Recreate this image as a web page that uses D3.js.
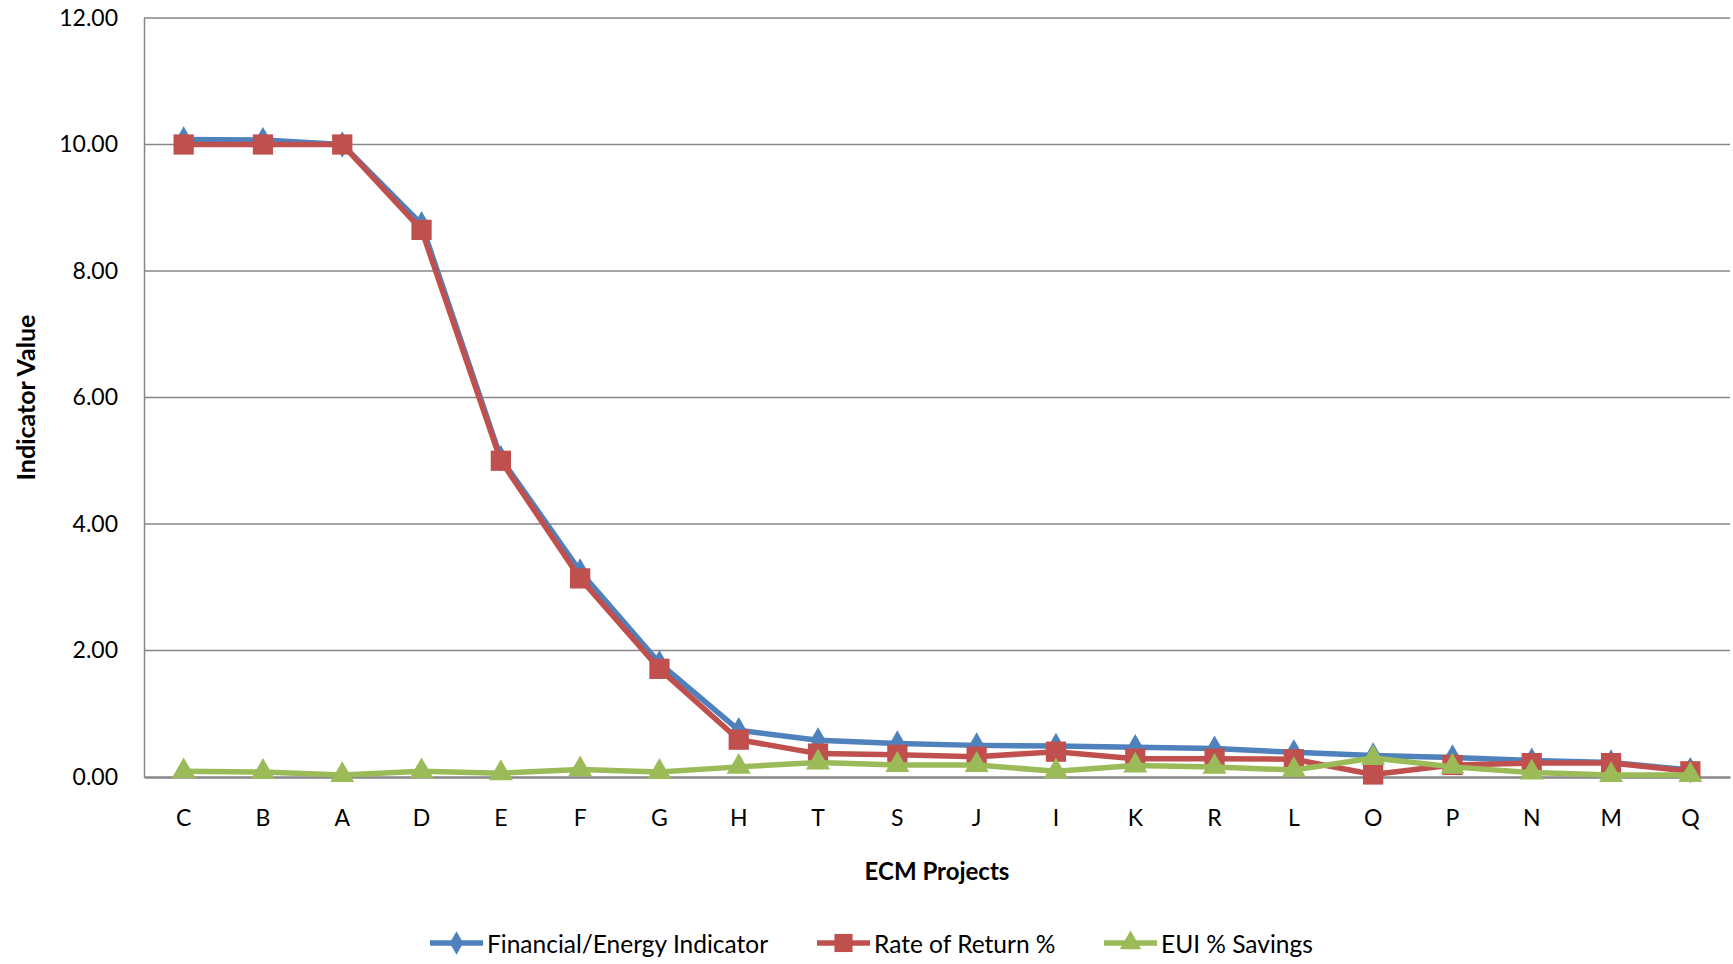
<!DOCTYPE html>
<html>
<head>
<meta charset="utf-8">
<script src="https://cdn.jsdelivr.net/npm/d3@7"></script>
<style>
  body { margin: 0; background: #fff; }
  text { font-family: Lato, "Open Sans", sans-serif; fill: #000; }
</style>
</head>
<body>
<svg width="1733" height="964"></svg>
<script>
var projects = ["C","B","A","D","E","F","G","H","T","S","J","I","K","R","L","O","P","N","M","Q"];
var financialEnergy = [10.08,10.07,10.00,8.74,5.04,3.25,1.80,0.74,0.58,0.53,0.50,0.49,0.47,0.45,0.39,0.34,0.31,0.26,0.23,0.11];
var rateOfReturn   = [10.00,10.00,10.00,8.65,5.00,3.14,1.71,0.59,0.37,0.35,0.32,0.40,0.29,0.29,0.28,0.04,0.19,0.22,0.22,0.09];
var euiSavings     = [0.09,0.08,0.03,0.09,0.06,0.12,0.08,0.16,0.23,0.19,0.19,0.09,0.18,0.16,0.11,0.30,0.16,0.07,0.03,0.03];
var yTicks = [0, 2, 4, 6, 8, 10, 12];

var svg = d3.select("svg"),
    margin = {top: 18, right: 3, bottom: 187, left: 144},
    width = +svg.attr("width") - margin.left - margin.right,
    height = +svg.attr("height") - margin.top - margin.bottom;

var x = d3.scaleBand().domain(projects).range([0, width]);
var y = d3.scaleLinear().domain([0, 12]).range([height, 0]);

var g = svg.append("g").attr("transform", "translate(" + margin.left + "," + margin.top + ")");

// gridlines
g.append("g").selectAll("line")
  .data(yTicks.slice(1))
  .enter().append("line")
    .attr("x1", 0).attr("x2", width)
    .attr("y1", function(d) { return y(d); })
    .attr("y2", function(d) { return y(d); })
    .attr("stroke", "#868686").attr("stroke-width", 1.4);

// axes
var yAxis = g.append("g")
    .call(d3.axisLeft(y).tickValues(yTicks).tickFormat(d3.format(".2f")).tickSize(0).tickPadding(26));
yAxis.select(".domain").attr("stroke", "#868686").attr("stroke-width", 1.5);
yAxis.selectAll("text").style("font-size", "23px");

var xAxis = g.append("g")
    .attr("transform", "translate(0," + height + ")")
    .call(d3.axisBottom(x).tickSize(0).tickPadding(33));
xAxis.select(".domain").attr("stroke", "#868686").attr("stroke-width", 2.5);
xAxis.selectAll("text").style("font-size", "23px");

// axis titles
svg.append("text")
    .attr("transform", "translate(25," + (margin.top + height / 2) + ") rotate(-90)")
    .attr("text-anchor", "middle")
    .attr("dominant-baseline", "central")
    .style("font-size", "25px").style("font-weight", "bold")
    .text("Indicator Value");

svg.append("text")
    .attr("x", margin.left + width / 2)
    .attr("y", 870)
    .attr("text-anchor", "middle")
    .attr("dominant-baseline", "central")
    .style("font-size", "24px").style("font-weight", "bold")
    .text("ECM Projects");

var series = [
  {name: "Financial/Energy Indicator", values: financialEnergy, color: "#4F81BD", symbol: d3.symbolDiamond, size: 200},
  {name: "Rate of Return %", values: rateOfReturn, color: "#C0504D", symbol: d3.symbolSquare, size: 410},
  {name: "EUI % Savings", values: euiSavings, color: "#9BBB59", symbol: d3.symbolTriangle, size: 250}
];

var line = d3.line()
    .x(function(d, i) { return x(projects[i]) + x.bandwidth() / 2; })
    .y(function(d) { return y(d); });

series.forEach(function(s) {
  var sg = g.append("g");
  sg.append("path")
      .datum(s.values)
      .attr("d", line)
      .attr("fill", "none")
      .attr("stroke", s.color)
      .attr("stroke-width", 5.5)
      .attr("stroke-linejoin", "round");
  sg.selectAll("path.mark")
    .data(s.values)
    .enter().append("path")
      .attr("class", "mark")
      .attr("d", d3.symbol().type(s.symbol).size(s.size))
      .attr("transform", function(d, i) {
        return "translate(" + (x(projects[i]) + x.bandwidth() / 2) + "," + y(d) + ")";
      })
      .attr("fill", s.color);
});

// legend
var legendX = [430, 817, 1104];
var legend = svg.append("g").selectAll("g")
  .data(series)
  .enter().append("g")
    .attr("transform", function(d, i) { return "translate(" + legendX[i] + ",943)"; });

legend.append("line")
    .attr("x1", 0).attr("x2", 53)
    .attr("stroke", function(d) { return d.color; })
    .attr("stroke-width", 5.5);
legend.append("path")
    .attr("d", function(d) { return d3.symbol().type(d.symbol).size(d.size * 0.8)(); })
    .attr("transform", "translate(26.5,0)")
    .attr("fill", function(d) { return d.color; });
legend.append("text")
    .attr("x", 57)
    .attr("dominant-baseline", "central")
    .style("font-size", "24.5px")
    .text(function(d) { return d.name; });
</script>
</body>
</html>
